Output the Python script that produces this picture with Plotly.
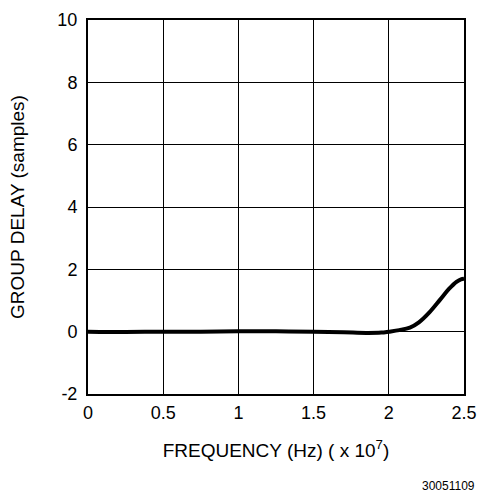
import plotly.graph_objects as go

freq = [0.0, 0.25, 0.5, 0.75, 1.0, 1.25, 1.5, 1.7, 1.85, 1.95, 2.0, 2.07, 2.14, 2.2, 2.27, 2.34, 2.4, 2.45, 2.48, 2.5]
delay = [0.0, -0.01, 0.0, 0.0, 0.01, 0.01, 0.0, -0.02, -0.04, -0.03, 0.0, 0.05, 0.13, 0.3, 0.62, 1.02, 1.37, 1.6, 1.68, 1.7]

xticks = [0, 0.5, 1, 1.5, 2, 2.5]
xticklabels = ["0", "0.5", "1", "1.5", "2", "2.5"]
yticks = [-2, 0, 2, 4, 6, 8, 10]
yticklabels = ["-2", "0", "2", "4", "6", "8", "10"]

FONT = "Liberation Sans, Arial, Helvetica, sans-serif"

fig = go.Figure()
fig.add_trace(go.Scatter(x=freq, y=delay, mode="lines", line=dict(color="black", width=4, shape="spline"),
                         showlegend=False, hoverinfo="skip"))

fig.update_layout(
    width=478, height=493,
    margin=dict(l=88, r=14, t=20, b=99, autoexpand=False),
    paper_bgcolor="white", plot_bgcolor="white",
    font=dict(family=FONT, size=18, color="black"),
    xaxis=dict(range=[0, 2.5], tickvals=xticks, ticktext=xticklabels, showgrid=True, gridcolor="black",
               gridwidth=1.3, zeroline=False, showline=True, linecolor="black", linewidth=2, mirror=True,
               ticks="", automargin=False, ticklabelstandoff=1, tickfont=dict(family=FONT, size=18, color="black"),
               title=dict(text="FREQUENCY (Hz) ( x 10<sup>7</sup>)", font=dict(family=FONT, size=19, color="black"),
                          standoff=22)),
    yaxis=dict(range=[-2, 10], tickvals=yticks, ticktext=yticklabels, showgrid=True, gridcolor="black",
               gridwidth=1.3, zeroline=False, showline=True, linecolor="black", linewidth=2, mirror=True,
               ticks="", automargin=False, ticklabelstandoff=5, tickfont=dict(family=FONT, size=18, color="black"),
               title=dict(text="GROUP DELAY (samples)", font=dict(family=FONT, size=19, color="black"),
                          standoff=28)),
    annotations=[dict(text="30051109", xref="paper", yref="paper", x=1.035, y=-0.245, xanchor="right",
                      yanchor="middle", showarrow=False, font=dict(family=FONT, size=12, color="black"))],
)

fig.write_html("out.html", config={"displayModeBar": False},
               post_script="document.body.style.margin='0';document.body.style.overflow='hidden';")
